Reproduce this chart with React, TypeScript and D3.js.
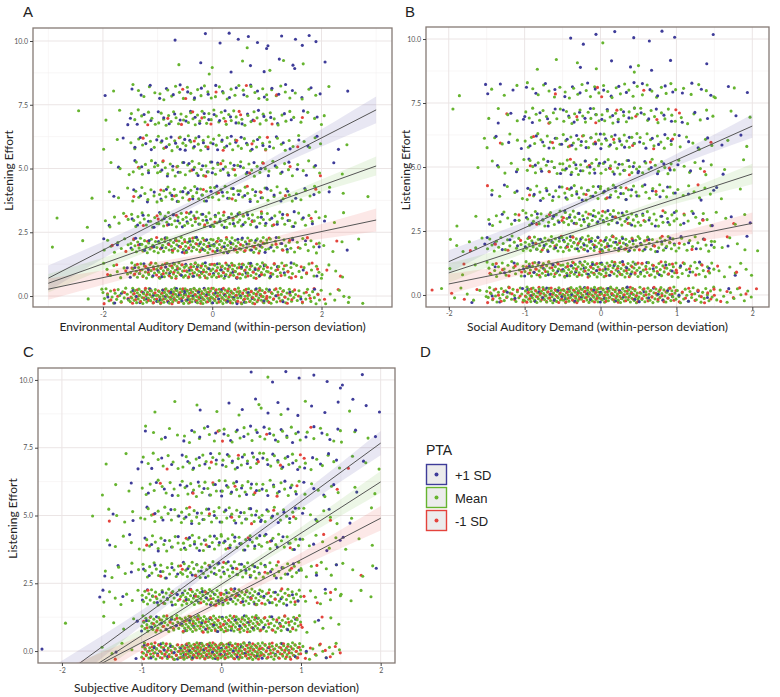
import * as d3 from 'd3'
import { useEffect, useRef } from 'react'

// PTA groups: +1 SD, Mean, -1 SD
const groupNames = ['+1 SD', 'Mean', '-1 SD']
const groupColors = ['#3e3c99', '#66b42f', '#e4433c']
const effortLevels = [0, 1, 2, 3, 4, 5, 6, 7, 8, 9, 10]
const yTicks = [0, 2.5, 5, 7.5, 10]
const yMinor = [1.25, 3.75, 6.25, 8.75]
const binWidth = 0.5

// Environmental demand: counts of observations per 0.5-wide x bin starting at -3, one row per effort level
const envBinStart = -3
const envBlue = [
  [0, 0, 4, 8, 10, 10, 9, 7, 4, 2, 0, 0],
  [0, 0, 1, 6, 7, 7, 7, 6, 4, 2, 0, 0],
  [0, 0, 2, 6, 8, 8, 8, 6, 5, 2, 1, 0],
  [0, 0, 1, 5, 6, 7, 6, 6, 5, 3, 1, 0],
  [0, 0, 1, 4, 5, 6, 5, 5, 4, 3, 1, 0],
  [0, 0, 1, 4, 5, 6, 5, 4, 4, 3, 1, 0],
  [0, 0, 1, 5, 6, 6, 6, 5, 4, 3, 1, 0],
  [0, 0, 1, 4, 5, 6, 5, 5, 4, 2, 0, 0],
  [0, 0, 1, 3, 4, 4, 4, 4, 4, 3, 1, 0],
  [0, 0, 0, 0, 0, 1, 1, 2, 2, 1, 1, 0],
  [0, 0, 0, 0, 1, 1, 3, 3, 2, 4, 0, 0],
]
const envGreen = [
  [0, 2, 18, 35, 40, 40, 37, 32, 24, 16, 6, 2],
  [0, 0, 8, 24, 30, 30, 29, 26, 18, 11, 4, 0],
  [1, 1, 8, 20, 25, 27, 26, 23, 16, 10, 3, 1],
  [1, 1, 6, 13, 17, 18, 17, 15, 11, 8, 3, 0],
  [0, 1, 3, 9, 13, 14, 13, 11, 9, 6, 2, 1],
  [0, 0, 3, 9, 11, 12, 11, 10, 7, 5, 1, 0],
  [0, 0, 2, 7, 10, 11, 10, 9, 7, 5, 1, 0],
  [0, 1, 2, 8, 11, 12, 11, 9, 7, 4, 1, 0],
  [0, 0, 1, 5, 7, 8, 7, 7, 6, 4, 1, 0],
  [0, 0, 0, 0, 1, 1, 1, 1, 2, 1, 0, 0],
  [0, 0, 0, 0, 0, 0, 0, 1, 0, 0, 0, 0],
]
const envRed = [
  [0, 0, 8, 17, 20, 20, 19, 16, 12, 7, 2, 0],
  [0, 0, 3, 10, 13, 13, 12, 10, 8, 5, 2, 0],
  [0, 0, 2, 6, 7, 7, 6, 6, 4, 3, 1, 0],
  [0, 0, 1, 2, 3, 3, 3, 3, 2, 1, 0, 0],
  [0, 0, 0, 1, 2, 2, 2, 2, 1, 1, 0, 0],
  [0, 0, 0, 1, 2, 2, 2, 2, 1, 1, 0, 0],
  [0, 0, 0, 1, 2, 2, 2, 2, 1, 1, 0, 0],
  [0, 0, 0, 1, 2, 3, 2, 2, 1, 1, 0, 0],
  [0, 0, 0, 0, 1, 1, 1, 1, 1, 0, 0, 0],
  [0, 0, 0, 0, 0, 0, 0, 0, 0, 0, 0, 0],
  [0, 0, 0, 0, 0, 0, 0, 0, 0, 0, 0, 0],
]

// Social demand: bins start at -2.5
const socBinStart = -2.5
const socBlue = [
  [0, 1, 5, 10, 12, 10, 8, 4, 1, 0],
  [0, 0, 4, 8, 9, 9, 6, 4, 1, 0],
  [0, 1, 5, 10, 11, 11, 9, 5, 2, 0],
  [0, 0, 3, 7, 8, 8, 6, 4, 2, 0],
  [0, 0, 3, 6, 7, 7, 5, 3, 1, 0],
  [0, 0, 2, 6, 8, 8, 6, 3, 1, 0],
  [0, 0, 3, 6, 8, 8, 6, 4, 2, 0],
  [0, 0, 3, 5, 7, 7, 5, 3, 1, 0],
  [0, 1, 3, 4, 5, 5, 5, 4, 2, 0],
  [0, 0, 0, 0, 1, 2, 2, 1, 0, 0],
  [0, 0, 0, 0, 3, 2, 3, 1, 0, 0],
]
const socGreen = [
  [1, 6, 26, 50, 55, 50, 38, 24, 11, 1],
  [0, 3, 20, 35, 40, 38, 29, 18, 7, 1],
  [1, 6, 17, 29, 32, 31, 24, 14, 5, 1],
  [0, 2, 10, 20, 24, 23, 17, 10, 4, 0],
  [0, 0, 5, 12, 16, 15, 11, 7, 2, 0],
  [0, 1, 6, 14, 17, 16, 12, 7, 2, 0],
  [0, 1, 5, 12, 15, 15, 11, 6, 2, 0],
  [0, 1, 4, 11, 14, 14, 11, 6, 2, 0],
  [0, 1, 3, 7, 9, 9, 8, 5, 2, 0],
  [0, 0, 0, 2, 2, 1, 1, 0, 0, 0],
  [0, 0, 0, 0, 0, 1, 0, 0, 0, 0],
]
const socRed = [
  [2, 3, 14, 25, 28, 25, 19, 12, 6, 1],
  [0, 1, 6, 12, 13, 13, 10, 6, 2, 0],
  [0, 1, 3, 6, 7, 6, 5, 3, 1, 0],
  [0, 0, 1, 3, 3, 3, 2, 2, 1, 0],
  [0, 0, 1, 1, 2, 2, 1, 1, 0, 0],
  [0, 0, 0, 2, 2, 2, 2, 1, 0, 0],
  [0, 0, 1, 2, 3, 2, 2, 1, 0, 0],
  [0, 0, 1, 1, 2, 2, 2, 1, 0, 0],
  [0, 0, 0, 1, 1, 1, 1, 0, 0, 0],
  [0, 0, 0, 0, 0, 0, 0, 0, 0, 0],
  [0, 0, 0, 0, 0, 0, 0, 0, 0, 0],
]

// Subjective demand: bins start at -2.5
const subBinStart = -2.5
const subBlue = [
  [1, 0, 2, 12, 14, 10, 6, 2, 0, 0],
  [0, 0, 1, 8, 10, 9, 5, 1, 0, 0],
  [0, 1, 2, 8, 10, 10, 7, 1, 0, 0],
  [0, 0, 3, 7, 9, 9, 7, 2, 1, 0],
  [0, 0, 2, 6, 8, 8, 7, 3, 1, 0],
  [0, 0, 2, 5, 7, 8, 7, 3, 1, 0],
  [0, 0, 1, 5, 7, 8, 7, 4, 1, 0],
  [0, 0, 1, 4, 7, 8, 8, 5, 1, 0],
  [0, 0, 0, 2, 5, 6, 7, 5, 2, 0],
  [0, 0, 0, 0, 1, 3, 4, 3, 3, 0],
  [0, 0, 0, 0, 0, 1, 3, 3, 2, 0],
]
const subGreen = [
  [0, 0, 4, 45, 65, 60, 45, 12, 0, 0],
  [0, 1, 4, 40, 55, 52, 35, 5, 0, 0],
  [0, 0, 7, 30, 42, 40, 28, 8, 4, 0],
  [0, 0, 6, 18, 25, 24, 18, 8, 4, 0],
  [0, 0, 5, 14, 18, 18, 14, 6, 3, 0],
  [0, 1, 5, 12, 16, 16, 13, 6, 2, 0],
  [0, 0, 3, 10, 14, 14, 11, 6, 2, 0],
  [0, 0, 2, 8, 12, 13, 11, 7, 3, 0],
  [0, 0, 0, 5, 8, 10, 9, 6, 3, 0],
  [0, 0, 0, 2, 2, 2, 2, 1, 1, 0],
  [0, 0, 0, 0, 0, 0, 1, 0, 0, 0],
]
const subRed = [
  [0, 0, 1, 28, 40, 35, 28, 8, 0, 0],
  [0, 0, 0, 12, 16, 15, 10, 2, 0, 0],
  [0, 0, 0, 5, 8, 8, 6, 3, 0, 0],
  [0, 0, 0, 2, 3, 3, 3, 1, 1, 0],
  [0, 0, 0, 1, 2, 2, 2, 1, 0, 0],
  [0, 0, 1, 1, 2, 2, 2, 1, 0, 0],
  [0, 0, 0, 1, 2, 2, 2, 1, 0, 0],
  [0, 0, 0, 1, 1, 2, 2, 1, 1, 0],
  [0, 0, 0, 0, 1, 1, 1, 1, 0, 0],
  [0, 0, 0, 0, 0, 0, 0, 0, 0, 0],
  [0, 0, 0, 0, 0, 0, 0, 0, 0, 0],
]

// fitted lines (value at the two ends of fitX) and CI half-widths at bandX, order: +1 SD, Mean, -1 SD
const envFitX = [-3, 3]
const envFit = [[0.7, 7.3], [0.5, 5.1], [0.27, 2.98]]
const envBandX = [-3, -1.5, 0, 1.5, 3]
const envBand = [[0.5, 0.26, 0.13, 0.26, 0.52], [0.36, 0.18, 0.09, 0.18, 0.37], [0.42, 0.22, 0.11, 0.22, 0.45]]

const socFitX = [-2, 2]
const socFit = [[1.3, 6.6], [0.86, 4.73], [0.43, 2.8]]
const socBandX = [-2, -1, 0, 1, 2]
const socBand = [[0.45, 0.23, 0.12, 0.23, 0.46], [0.38, 0.19, 0.1, 0.19, 0.4], [0.4, 0.2, 0.1, 0.21, 0.42]]

const subFitX = [-2.1, 2]
const subFit = [[-1.14, 7.67], [-1.51, 6.24], [-1.37, 4.9]]
const subBandX = [-2.1, -1, 0, 1, 2]
const subBand = [[0.6, 0.28, 0.15, 0.26, 0.45], [0.55, 0.25, 0.12, 0.22, 0.4], [0.6, 0.27, 0.14, 0.25, 0.45]]

const panels = [
  {
    id: 'A', label: 'A', left: 33, right: 392, top: 28, bottom: 307,
    xDomain: [-3.28, 3.29], yDomain: [-0.43, 10.51],
    xTicks: [-2, 0, 2], xMinor: [-3, -1, 1, 3],
    binStart: envBinStart, counts: [envBlue, envGreen, envRed],
    fitX: envFitX, fit: envFit, bandX: envBandX, band: envBand,
    title: 'Environmental Auditory Demand (within-person deviation)',
    labelX: 23, labelY: 17, yTitleX: 13, xTitleY: 331, xTickY: 317,
  },
  {
    id: 'B', label: 'B', left: 426, right: 769, top: 27, bottom: 307,
    xDomain: [-2.3, 2.22], yDomain: [-0.47, 10.47],
    xTicks: [-2, -1, 0, 1, 2], xMinor: [-1.5, -0.5, 0.5, 1.5],
    binStart: socBinStart, counts: [socBlue, socGreen, socRed],
    fitX: socFitX, fit: socFit, bandX: socBandX, band: socBand,
    title: 'Social Auditory Demand (within-person deviation)',
    labelX: 405, labelY: 17, yTitleX: 410, xTitleY: 331, xTickY: 316,
  },
  {
    id: 'C', label: 'C', left: 38, right: 395, top: 368, bottom: 663,
    xDomain: [-2.3, 2.18], yDomain: [-0.44, 10.44],
    xTicks: [-2, -1, 0, 1, 2], xMinor: [-1.5, -0.5, 0.5, 1.5],
    binStart: subBinStart, counts: [subBlue, subGreen, subRed],
    fitX: subFitX, fit: subFit, bandX: subBandX, band: subBand,
    title: 'Subjective Auditory Demand (within-person deviation)',
    labelX: 23, labelY: 357, yTitleX: 17, xTitleY: 692, xTickY: 673,
  },
]

// jitter: points of one bin are spread evenly across the bin, vertical offset from a fixed
// golden-ratio sequence (deterministic, no random numbers)
function spread(rows: number[][], binStart: number, gi: number) {
  const pts: { x: number; y: number; g: number }[] = []
  rows.forEach((row, li) => {
    row.forEach((n, b) => {
      const phase = (0.5 + gi * 0.31 + li * 0.17 + b * 0.11) % 1
      for (let k = 0; k < n; k++) {
        const fx = (k + phase) / n
        const fy = ((k + 1) * 0.618034 + gi * 0.29 + b * 0.41 + li * 0.23) % 1
        pts.push({ x: binStart + binWidth * (b + fx), y: effortLevels[li] + (fy - 0.5) * 0.62, g: gi })
      }
    })
  })
  return pts
}

function drawPanel(svg: any, p: any) {
  const x = d3.scaleLinear().domain(p.xDomain).range([p.left, p.right])
  const y = d3.scaleLinear().domain(p.yDomain).range([p.bottom, p.top])
  const g = svg.append('g')
  const clipId = 'clip-' + p.id
  g.append('clipPath').attr('id', clipId).append('rect')
    .attr('x', p.left).attr('y', p.top).attr('width', p.right - p.left).attr('height', p.bottom - p.top)

  g.append('rect').attr('x', p.left).attr('y', p.top).attr('width', p.right - p.left).attr('height', p.bottom - p.top)
    .attr('fill', '#fff')

  // grid
  const grid = g.append('g')
  grid.selectAll('.xm').data(p.xMinor).join('line')
    .attr('x1', (d: number) => x(d)).attr('x2', (d: number) => x(d)).attr('y1', p.top).attr('y2', p.bottom)
    .attr('stroke', '#f4f0f0').attr('stroke-width', 0.6)
  grid.selectAll('.ym').data(yMinor).join('line')
    .attr('y1', (d: number) => y(d)).attr('y2', (d: number) => y(d)).attr('x1', p.left).attr('x2', p.right)
    .attr('stroke', '#f4f0f0').attr('stroke-width', 0.6)
  grid.selectAll('.xM').data(p.xTicks).join('line')
    .attr('x1', (d: number) => x(d)).attr('x2', (d: number) => x(d)).attr('y1', p.top).attr('y2', p.bottom)
    .attr('stroke', '#ebe5e5').attr('stroke-width', 1)
  grid.selectAll('.yM').data(yTicks).join('line')
    .attr('y1', (d: number) => y(d)).attr('y2', (d: number) => y(d)).attr('x1', p.left).attr('x2', p.right)
    .attr('stroke', '#ebe5e5').attr('stroke-width', 1)

  // points
  const pts = p.counts.flatMap((rows: number[][], gi: number) => spread(rows, p.binStart, gi))
    .sort((a: any, b: any) => a.x - b.x)
  g.append('g').attr('clip-path', `url(#${clipId})`)
    .selectAll('circle').data(pts).join('circle')
    .attr('cx', (d: any) => x(d.x)).attr('cy', (d: any) => y(d.y)).attr('r', 1.55)
    .attr('fill', (d: any) => groupColors[d.g])

  // smooth ribbons and lines
  const fits = g.append('g').attr('clip-path', `url(#${clipId})`)
  const area = d3.area<any>().x(d => x(d.x)).y0(d => y(d.lo)).y1(d => y(d.hi)).curve(d3.curveMonotoneX)
  p.fit.forEach((ends: number[], gi: number) => {
    const fitAt = d3.scaleLinear().domain(p.fitX).range(ends)
    const band = p.bandX.map((bx: number, i: number) => ({
      x: bx, lo: fitAt(bx) - p.band[gi][i], hi: fitAt(bx) + p.band[gi][i],
    }))
    fits.append('path').attr('d', area(band)).attr('fill', groupColors[gi]).attr('opacity', 0.12)
  })
  p.fit.forEach((ends: number[]) => {
    fits.append('line')
      .attr('x1', x(p.fitX[0])).attr('y1', y(ends[0])).attr('x2', x(p.fitX[1])).attr('y2', y(ends[1]))
      .attr('stroke', '#555').attr('stroke-width', 1)
  })

  // border
  g.append('rect').attr('x', p.left).attr('y', p.top).attr('width', p.right - p.left).attr('height', p.bottom - p.top)
    .attr('fill', 'none').attr('stroke', '#857a75').attr('stroke-width', 1.3)

  // axes
  const yAxis = d3.axisLeft(y).tickValues(yTicks).tickFormat(d3.format('.1f')).tickSize(3).tickPadding(2)
  const ya = g.append('g').attr('transform', `translate(${p.left},0)`).call(yAxis)
  ya.select('.domain').remove()
  ya.attr('font-size', 7).attr('font-family', 'Lato')
  ya.selectAll('text').attr('fill', '#555')
  ya.selectAll('line').attr('stroke', '#444')

  const xAxis = d3.axisBottom(x).tickValues(p.xTicks).tickFormat((d: any) => String(d)).tickSize(3).tickPadding(2)
  const xa = g.append('g').attr('transform', `translate(0,${p.bottom})`).call(xAxis)
  xa.select('.domain').remove()
  xa.attr('font-size', 7).attr('font-family', 'Lato')
  xa.selectAll('text').attr('fill', '#555').attr('dy', null).attr('y', p.xTickY - p.bottom)
  xa.selectAll('line').attr('stroke', '#444')

  // titles
  g.append('text').attr('x', (p.left + p.right) / 2).attr('y', p.xTitleY)
    .attr('text-anchor', 'middle').attr('font-family', 'Lato').attr('font-size', 12).attr('fill', '#222')
    .text(p.title)
  g.append('text')
    .attr('transform', `translate(${p.yTitleX},${(p.top + p.bottom) / 2 + 3}) rotate(-90)`)
    .attr('text-anchor', 'middle').attr('font-family', 'Lato').attr('font-size', 12).attr('fill', '#222')
    .text('Listening Effort')
  g.append('text').attr('x', p.labelX).attr('y', p.labelY)
    .attr('font-family', 'Liberation Sans').attr('font-size', 15).attr('fill', '#222')
    .text(p.label)
}

function drawLegend(svg: any) {
  const lg = svg.append('g').attr('font-family', 'Liberation Sans').attr('fill', '#222')
  svg.append('text').attr('x', 420).attr('y', 357)
    .attr('font-family', 'Liberation Sans').attr('font-size', 15).attr('fill', '#222').text('D')
  lg.append('text').attr('x', 426).attr('y', 455).attr('font-size', 14).text('PTA')
  groupNames.forEach((name, i) => {
    const y0 = 464.5 + i * 23
    lg.append('rect').attr('x', 426.5).attr('y', y0).attr('width', 20).attr('height', 20)
      .attr('fill', '#ececec').attr('stroke', groupColors[i]).attr('stroke-width', 1.4)
    lg.append('circle').attr('cx', 436.5).attr('cy', y0 + 10).attr('r', 2).attr('fill', groupColors[i])
    lg.append('text').attr('x', 455).attr('y', y0 + 15).attr('font-size', 13).text(name)
  })
}

export default function App() {
  const svgRef = useRef<SVGSVGElement>(null)

  useEffect(() => {
    const svg = d3.select(svgRef.current)
    svg.selectAll('*').remove()
    panels.forEach(p => drawPanel(svg, p))
    drawLegend(svg)
  }, [])

  return (
    <svg ref={svgRef} width={780} height={697}
      style={{ position: 'absolute', left: 0, top: 0, background: '#fff' }}></svg>
  )
}
